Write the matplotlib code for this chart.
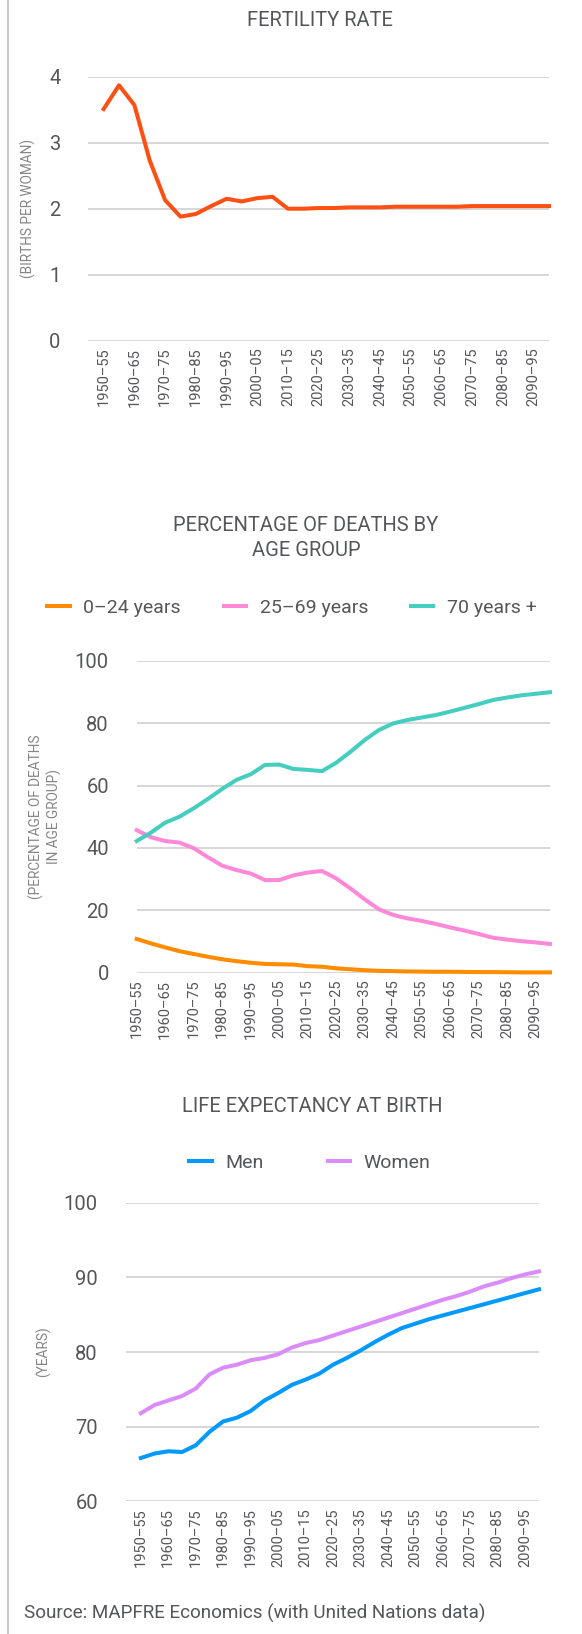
import matplotlib
matplotlib.use("Agg")
import matplotlib.pyplot as plt
from matplotlib.lines import Line2D

plt.rcParams['font.family'] = ['Roboto', 'DejaVu Sans']

# five-year periods 1950-55 ... 2095-2100
periods = [f"{y}\u2013{(y + 5) % 100:02d}" for y in range(1950, 2100, 5)]

fertility = [3.51, 3.87, 3.57, 2.73, 2.13, 1.88, 1.92, 2.04, 2.15, 2.11,
             2.16, 2.18, 2.00, 2.00, 2.01, 2.01, 2.02, 2.02, 2.02, 2.03,
             2.03, 2.03, 2.03, 2.03, 2.04, 2.04, 2.04, 2.04, 2.04, 2.04]

deaths_0_24 = [10.8, 9.4, 8.1, 6.9, 6.0, 5.1, 4.3, 3.7, 3.2, 2.8,
               2.7, 2.6, 2.1, 1.9, 1.4, 1.1, 0.8, 0.6, 0.5, 0.4,
               0.35, 0.3, 0.3, 0.25, 0.2, 0.2, 0.15, 0.1, 0.1, 0.1]
deaths_25_69 = [45.7, 43.4, 42.2, 41.7, 39.9, 37.0, 34.3, 32.9, 31.8, 29.7,
                29.7, 31.2, 32.1, 32.6, 30.2, 27.0, 23.5, 20.3, 18.5, 17.4,
                16.6, 15.6, 14.5, 13.5, 12.4, 11.2, 10.6, 10.1, 9.7, 9.2]
deaths_70_plus = [42.2, 44.9, 48.1, 50.0, 52.7, 55.7, 58.9, 61.8, 63.6, 66.6,
                  66.7, 65.3, 65.0, 64.6, 67.3, 70.8, 74.6, 77.8, 79.9, 81.0,
                  81.8, 82.6, 83.7, 84.9, 86.1, 87.4, 88.2, 88.9, 89.4, 89.9]
death_labels = ["0\u201324 years", "25\u201369 years", "70 years +"]

life_men = [65.8, 66.4, 66.7, 66.6, 67.5, 69.3, 70.7, 71.2, 72.1, 73.5,
            74.5, 75.6, 76.3, 77.1, 78.3, 79.2, 80.2, 81.3, 82.3, 83.2,
            83.8, 84.4, 84.9, 85.4, 85.9, 86.4, 86.9, 87.4, 87.9, 88.4]
life_women = [71.8, 72.9, 73.5, 74.1, 75.1, 77.0, 77.9, 78.3, 78.9, 79.2,
              79.7, 80.6, 81.2, 81.6, 82.2, 82.8, 83.4, 84.0, 84.6, 85.2,
              85.8, 86.4, 87.0, 87.5, 88.1, 88.8, 89.3, 89.9, 90.4, 90.8]
life_labels = ["Men", "Women"]

W, H = 582, 1634
TEXT = "#555659"
LIGHT = "#858585"
GRID = "#cfcfcf"
LW = 2.9
x = list(range(len(periods)))

fig = plt.figure(figsize=(W / 100, H / 100), dpi=100)


def add_ax(left, top, right, bottom):
    # pixel box -> figure fraction
    return fig.add_axes([left / W, 1 - bottom / H, (right - left) / W, (bottom - top) / H])


def style(ax, yticks, xmin):
    ax.set_xlim(xmin, len(periods) - 1)
    ax.set_ylim(yticks[0], yticks[-1])
    ax.set_yticks(yticks)
    ax.set_xticks(x[::2])
    ax.set_xticklabels(periods[::2], rotation=90, fontsize=10.5, color=TEXT)
    ax.tick_params(axis="x", length=0, pad=5)
    ax.tick_params(axis="y", length=0, pad=20, labelsize=14.5, labelcolor=TEXT)
    ax.grid(axis="y", color=GRID, linewidth=1.2)
    ax.set_axisbelow(True)
    for s in ax.spines.values():
        s.set_visible(False)


def ftext(px, py, s, **kw):
    fig.text(px / W, 1 - py / H, s, **kw)


# left border
fig.add_artist(Line2D([8 / W, 8 / W], [0, 1], transform=fig.transFigure, color="#c8c8c8", lw=1.5))

# --- fertility rate
ax1 = add_ax(88.3, 76.7, 549, 340.7)
style(ax1, [0, 1, 2, 3, 4], -1)
ax1.plot(x, fertility, color="#ff4f12", lw=LW, clip_on=False)
ftext(320, 21, "FERTILITY RATE", ha="center", va="center", fontsize=14.5, color=TEXT)
ftext(28, 208.7, "(BIRTHS PER WOMAN)", rotation=90, ha="center", va="center", fontsize=9.8, color=LIGHT)

# --- deaths by age group
ax2 = add_ax(136.7, 660.7, 550, 972.7)
style(ax2, [0, 20, 40, 60, 80, 100], 0)
for vals, c, lab in zip([deaths_0_24, deaths_25_69, deaths_70_plus],
                        ["#ff8c00", "#ff88d9", "#45cdbf"], death_labels):
    ax2.plot(x, vals, color=c, lw=LW, label=lab, clip_on=False)
ax2.legend(loc="center", bbox_to_anchor=(292 / W, 1 - 608 / H), bbox_transform=fig.transFigure,
           ncol=3, frameon=False, fontsize=14, handlelength=1.15, handletextpad=0.7,
           columnspacing=2.2, labelcolor=TEXT)
ftext(306, 538, "PERCENTAGE OF DEATHS BY\nAGE GROUP", ha="center", va="center",
      fontsize=14.5, color=TEXT, linespacing=1.35)
ftext(45, 816.7, "(PERCENTAGE OF DEATHS\nIN AGE GROUP)", rotation=90, ha="center", va="center",
      fontsize=9.8, color=LIGHT, multialignment="center")

# --- life expectancy
ax3 = add_ax(125.7, 1202.7, 539, 1501.3)
style(ax3, [60, 70, 80, 90, 100], -1.1)
for vals, c, lab in zip([life_men, life_women], ["#0099ff", "#d98cfa"], life_labels):
    ax3.plot(x, vals, color=c, lw=LW, label=lab, clip_on=False)
ax3.legend(loc="center", bbox_to_anchor=(310 / W, 1 - 1163 / H), bbox_transform=fig.transFigure,
           ncol=2, frameon=False, fontsize=14, handlelength=1.15, handletextpad=0.7,
           columnspacing=3.3, labelcolor=TEXT)
ftext(312, 1106, "LIFE EXPECTANCY AT BIRTH", ha="center", va="center", fontsize=14.5, color=TEXT)
ftext(43, 1352, "(YEARS)", rotation=90, ha="center", va="center", fontsize=9.8, color=LIGHT)

ftext(24, 1613, "Source: MAPFRE Economics (with United Nations data)", ha="left", va="center",
      fontsize=13.6, color=TEXT)

fig.savefig("out.png", dpi=100)
